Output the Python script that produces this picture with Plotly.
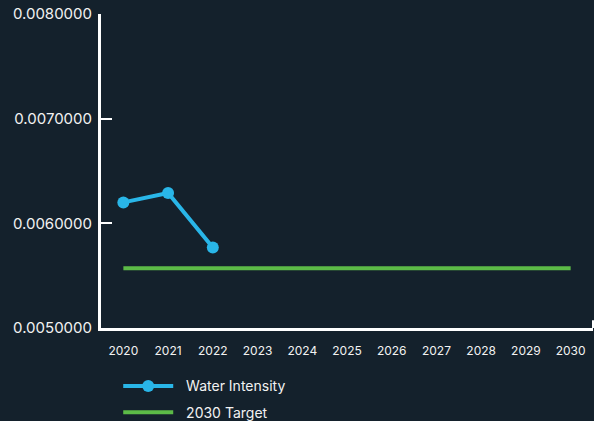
import plotly.graph_objects as go

years = [str(y) for y in range(2020, 2031)]
intensity_years = ["2020", "2021", "2022"]
water_intensity = [0.00620, 0.00629, 0.00577]
target_value = 0.00557
target = [target_value] * len(years)
y_ticks = [0.005, 0.006, 0.007, 0.008]
y_tick_labels = ["0.0050000", "0.0060000", "0.0070000", "0.0080000"]

BG = "#14212c"
BLUE = "#29b6e8"
GREEN = "#5cbb47"
FONT = "Inter, Noto Sans, sans-serif"
NB = "\u00a0\u00a0"

fig = go.Figure()
fig.add_trace(go.Scatter(
    x=intensity_years, y=water_intensity, name=NB + "Water Intensity",
    legendgroup="wi",
    mode="lines+markers",
    line=dict(color=BLUE, width=4),
    marker=dict(color=BLUE, size=12),
))
fig.add_trace(go.Scatter(
    x=years, y=target, name=NB + "2030 Target",
    legendgroup="tg",
    mode="lines",
    line=dict(color=GREEN, width=4),
))

fig.update_layout(
    width=594, height=421,
    paper_bgcolor=BG, plot_bgcolor=BG,
    margin=dict(l=101, r=1, t=14, b=93, autoexpand=False),
    font=dict(family=FONT, color="#f2f2f2"),
    xaxis=dict(
        type="category", categoryorder="array", categoryarray=years,
        range=[-0.5, 10.5],
        showgrid=False, zeroline=False,
        showline=True, linecolor="#ffffff", linewidth=3,
        ticks="", tickfont=dict(family=FONT, size=12, color="#f2f2f2"),
        ticklabelstandoff=10,
    ),
    yaxis=dict(
        range=[0.005, 0.008],
        tickvals=y_ticks, ticktext=y_tick_labels,
        showgrid=False, zeroline=False,
        showline=True, linecolor="#ffffff", linewidth=3,
        ticks="inside", ticklen=11, tickwidth=2, tickcolor="#ffffff",
        tickfont=dict(family=FONT, size=15, color="#f2f2f2"),
        ticklabelstandoff=3,
    ),
    legend=dict(
        orientation="v", x=0.035, xanchor="left", y=-0.135, yanchor="top",
        font=dict(family=FONT, size=14, color="#f2f2f2"),
        bgcolor="rgba(0,0,0,0)",
        itemwidth=50, tracegroupgap=5,
    ),
    showlegend=True,
)

# small closing tick at the right end of the x axis
fig.add_shape(type="line", xref="paper", yref="paper",
              x0=1, x1=1, y0=0, y1=0.025,
              line=dict(color="#ffffff", width=2))

fig.write_html("out.html")
